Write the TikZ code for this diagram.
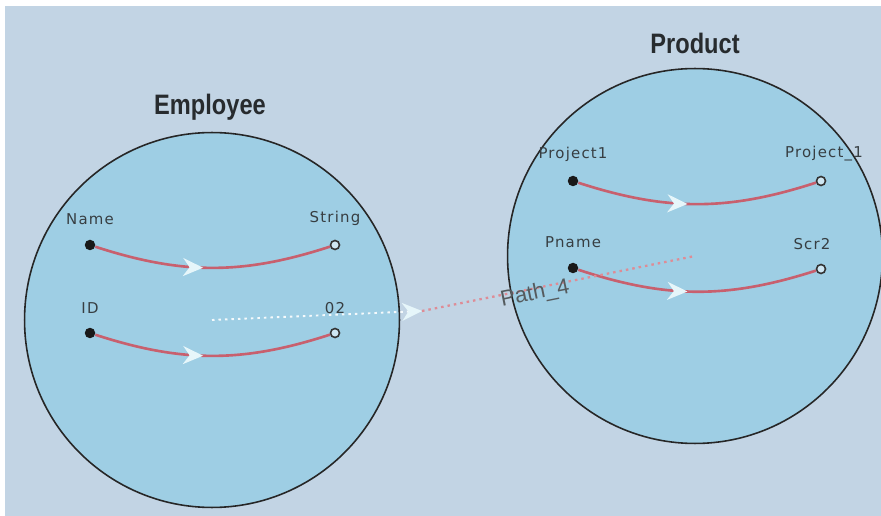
\documentclass[tikz,border=0pt]{standalone}
\usepackage{fontspec}
\setmainfont{Liberation Sans}
\newfontfamily\lblfont[LetterSpace=8]{DejaVu Sans}
\newfontfamily\titlefont[FakeStretch=0.84]{Liberation Sans Bold}
\usetikzlibrary{arrows.meta, decorations.markings}
\definecolor{canvas}{RGB}{194,212,228}
\definecolor{entityfill}{RGB}{158,206,228}
\definecolor{wire}{RGB}{200,96,110}
\definecolor{wiresoft}{RGB}{222,140,150}
\definecolor{tipfill}{RGB}{230,246,250}
\definecolor{inkdark}{RGB}{55,62,66}

\begin{document}
\begin{tikzpicture}[
  x=0.02cm, y=-0.02cm,
  entity/.style={draw=black!85, fill=entityfill, circle, line width=0.9pt,
    minimum size=7.5cm, inner sep=0pt},
  title/.style={font=\titlefont\fontsize{16}{18}\selectfont, text=inkdark!70!black},
  src/.style={circle, fill=black!90, minimum size=0.21cm, inner sep=0pt},
  dst/.style={circle, draw=black!80, fill=entityfill!50!white, line width=0.9pt,
    minimum size=0.18cm, inner sep=0pt},
  lbl/.style={font=\lblfont\fontsize{8.5}{10}\selectfont, text=inkdark,
    label distance=0.16cm},
  rel/.style={wire, line width=1.5pt, postaction={decorate},
    decoration={markings, mark=at position 0.46 with
      {\arrow{Stealth[length=0.4cm, width=0.36cm, inset=0.13cm, color=tipfill]}}}},
  pathlbl/.style={font=\fontsize{12.5}{14}\selectfont, text=inkdark!85}
]
  % canvas
  \useasboundingbox (0,0) rectangle (881,516);
  \fill[canvas] (5,6) rectangle (881,516);

  % the two entities
  \node[entity] (emp) at (212,320) {};
  \node[title] (emptitle) at (210,107) {Employee};
  \node[entity] (prod) at (695,256) {};
  \node[title] (prodtitle) at (695,43) {Product};

  % Employee attributes
  \node[src, label={[lbl]above:Name}] (name) at (90,245) {};
  \node[dst, label={[lbl]above:String}] (string) at (335,245) {};
  \node[src, label={[lbl]above:ID}] (id) at (90,333) {};
  \node[dst, label={[lbl]above:02}] (idval) at (335,333) {};

  % Product attributes
  \node[src, label={[lbl]above:Project1}] (proj) at (573,181) {};
  \node[dst, label={[lbl, xshift=0.06cm]above:Project\_1}] (projval) at (821,181) {};
  \node[src, label={[lbl]above:Pname}] (pname) at (573,268) {};
  \node[dst, label={[lbl, xshift=-0.18cm]above:Scr2}] (scr) at (821,269) {};

  \draw[rel] (name) to[bend right=18] (string);
  \draw[rel] (id) to[bend right=18] (idval);
  \draw[rel] (proj) to[bend right=18] (projval);
  \draw[rel] (pname) to[bend right=18] (scr);

  % Path_4 between the entities
  \coordinate (pathtip) at (422,311);
  \draw[white!90!entityfill, line width=1.1pt, dash pattern=on 0.05cm off 0.08cm,
    -{Stealth[length=0.4cm, width=0.36cm, inset=0.13cm, color=tipfill]}]
    (emp.center) -- (pathtip);
  \draw[wiresoft, line width=1.3pt, dash pattern=on 0.05cm off 0.08cm]
    (pathtip) -- node[pathlbl, sloped, pos=0.41, yshift=-0.11cm] {Path\_4} (prod.center);
\end{tikzpicture}
\end{document}
